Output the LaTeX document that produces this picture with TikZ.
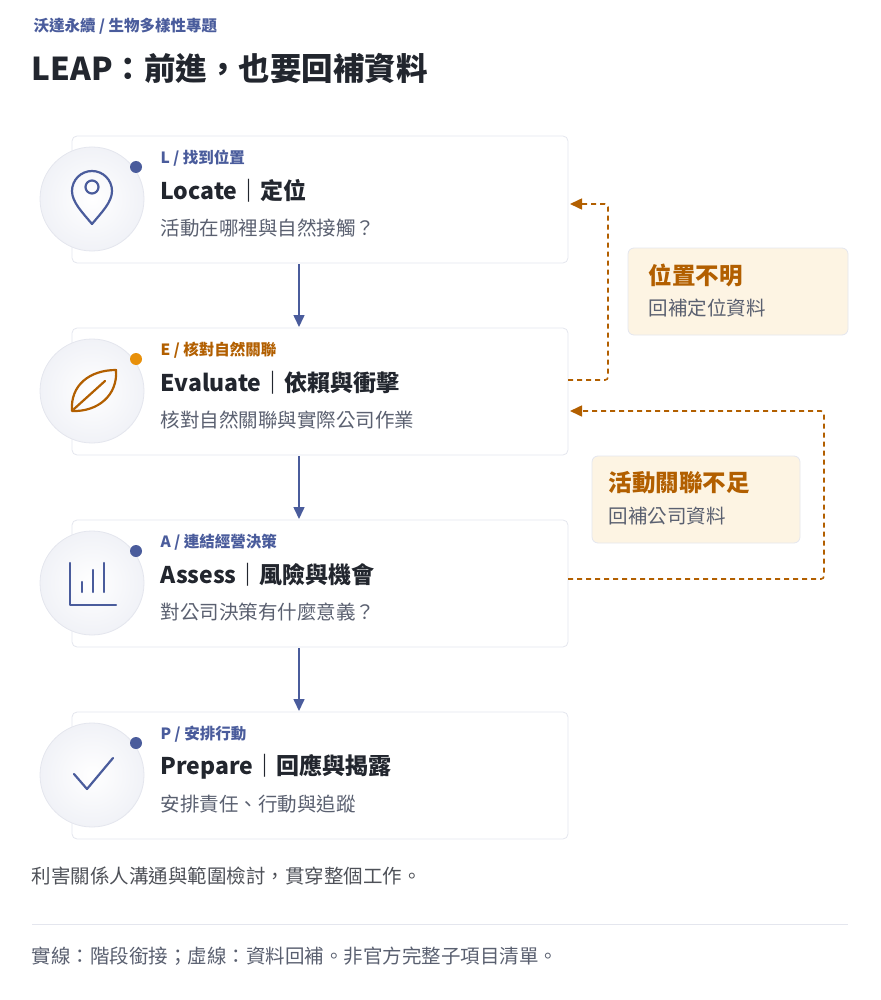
\documentclass[tikz,border=0pt]{standalone}
\usepackage{fontspec}
\setmainfont{Noto Sans CJK TC}
\usetikzlibrary{positioning,arrows.meta}
\definecolor{ink}{HTML}{22262E}
\definecolor{accent}{HTML}{4A5C9C}
\definecolor{amber}{HTML}{B25F00}
\definecolor{dotamber}{HTML}{E8900A}
\definecolor{muted}{HTML}{5A6070}
\definecolor{cardline}{HTML}{E4E6EE}
\definecolor{notefill}{HTML}{FDF4E3}
\tikzset{
  card/.style={draw=cardline, fill=white, rounded corners=5pt, line width=0.8pt},
  badge/.style={circle, minimum size=104pt, inner sep=0pt, draw=cardline, line width=0.8pt, inner color=white, outer color=accent!8},
  tag/.style={anchor=west, font=\fontsize{15.5}{17}\selectfont\bfseries, text=accent},
  head/.style={anchor=west, font=\fontsize{23}{27}\selectfont\bfseries, text=ink},
  sub/.style={anchor=west, font=\fontsize{19.5}{22}\selectfont, text=muted},
  flow/.style={-{Triangle[length=12pt,width=11pt]}, accent, line width=1.6pt},
  loop/.style={-{Triangle[length=12pt,width=11pt]}, amber, line width=1.6pt, dash pattern=on 5pt off 4pt, rounded corners=3pt},
  note/.style={draw=cardline, fill=notefill, rounded corners=6pt, line width=0.8pt},
  icon/.style={accent, line width=2.2pt, line cap=round, line join=round}
}
\begin{document}
\begin{tikzpicture}[x=1pt,y=-1pt]
  \useasboundingbox (0,0) rectangle (880,1000);
  % header
  \node[anchor=west, font=\fontsize{15.5}{17}\selectfont\bfseries, text=accent] (kicker) at (30,26) {沃達永續 / 生物多樣性專題};
  \node[anchor=west, font=\fontsize{31.5}{36}\selectfont\bfseries, text=ink] (title) at (28,68) {LEAP：前進，也要回補資料};

  % cards
  \foreach \name/\y in {cL/136, cE/328, cA/520, cP/712}
    \draw[card] (72,\y) rectangle (568,\y+127) coordinate (\name);
  \coordinate (cLt) at (299,264); \coordinate (cEt) at (299,327);
  \coordinate (cEb) at (299,456); \coordinate (cAt) at (299,519);
  \coordinate (cAb) at (299,648); \coordinate (cPt) at (299,711);

  % badges
  \foreach \name/\y in {bL/199, bE/391, bA/583, bP/775}
    \node[badge] (\name) at (92,\y) {};
  \fill[accent] (136,167) circle (6pt);
  \fill[dotamber] (136,359) circle (6pt);
  \fill[accent] (136,551) circle (6pt);
  \fill[accent] (136,743) circle (6pt);

  % icons
  \draw[icon] (92,224) .. controls (82,212) and (72,202) .. (72,191) arc (180:360:20) .. controls (112,202) and (102,212) .. (92,224) -- cycle;
  \draw[icon] (92,187) circle (6.5pt);
  \draw[icon, amber] (72,411) .. controls (70,385) and (90,370) .. (116,370) .. controls (118,395) and (98,412) .. (72,411) -- cycle;
  \draw[icon, amber] (74,409) -- (105,381);
  \draw[icon] (70,563) -- (70,605) -- (116,605);
  \draw[icon] (82,592) -- (82,582) (93,592) -- (93,570) (104,592) -- (104,563);
  \draw[icon] (74,774) -- (87,789) -- (113,758);

  % card texts
  \node[tag] (tL) at (157,158) {L / 找到位置};
  \node[head] (hL) at (157,191) {Locate｜定位};
  \node[sub] (sL) at (157,228) {活動在哪裡與自然接觸？};
  \node[tag, text=amber] (tE) at (157,350) {E / 核對自然關聯};
  \node[head] (hE) at (157,383) {Evaluate｜依賴與衝擊};
  \node[sub] (sE) at (157,420) {核對自然關聯與實際公司作業};
  \node[tag] (tA) at (157,542) {A / 連結經營決策};
  \node[head] (hA) at (157,575) {Assess｜風險與機會};
  \node[sub] (sA) at (157,612) {對公司決策有什麼意義？};
  \node[tag] (tP) at (157,734) {P / 安排行動};
  \node[head] (hP) at (157,767) {Prepare｜回應與揭露};
  \node[sub] (sP) at (157,804) {安排責任、行動與追蹤};

  % flow between steps
  \draw[flow] (cLt) -- (cEt);
  \draw[flow] (cEb) -- (cAt);
  \draw[flow] (cAb) -- (cPt);

  % loops back
  \coordinate (l1s) at (568,380); \coordinate (l1e) at (570,204);
  \coordinate (l2s) at (568,579); \coordinate (l2e) at (570,411);
  \draw[loop] (l1s) -- (608,380) -- (608,204) -- (l1e);
  \draw[loop] (l2s) -- (824,579) -- (824,411) -- (l2e);

  % notes
  \draw[note] (628,248) rectangle (848,335);
  \node[anchor=west, font=\fontsize{23.5}{27}\selectfont\bfseries, text=amber] (n1) at (645,275) {位置不明};
  \node[sub] (n1s) at (645,308) {回補定位資料};
  \draw[note] (592,456) rectangle (800,543);
  \node[anchor=west, font=\fontsize{23.5}{27}\selectfont\bfseries, text=amber] (n2) at (605,483) {活動關聯不足};
  \node[sub] (n2s) at (605,516) {回補公司資料};

  % footer
  \node[sub, text=ink!80] (foot) at (28,876) {利害關係人溝通與範圍檢討，貫穿整個工作。};
  \draw[cardline, line width=1pt] (32,924) -- (848,924);
  \node[sub, font=\fontsize{19.5}{22}\selectfont] (legend) at (28,956) {實線：階段銜接；虛線：資料回補。非官方完整子項目清單。};
\end{tikzpicture}
\end{document}
